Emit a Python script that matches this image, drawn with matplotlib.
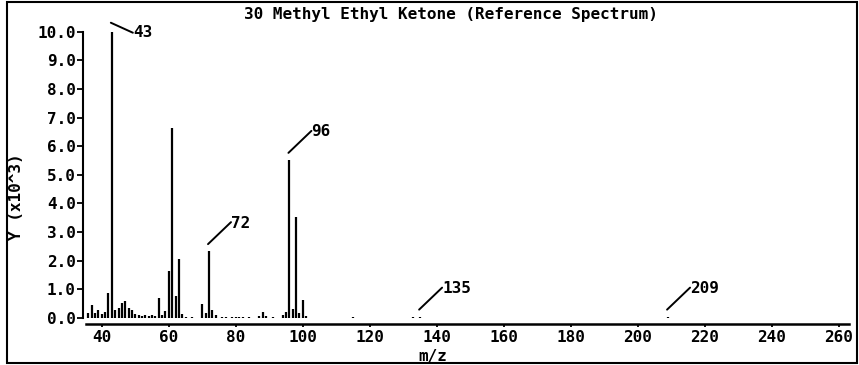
import matplotlib
matplotlib.use('Agg')
import matplotlib.pyplot as plt
from matplotlib.patches import Rectangle
from matplotlib.transforms import offset_copy

# ---- data (intensities in thousands) ----
mz = [36, 37, 38, 39, 40, 41, 42, 43, 44, 45, 46, 47, 48, 49, 50, 51, 52, 53, 54, 55,
      56, 57, 58, 59, 60, 61, 62, 63, 64, 65, 67, 70, 71, 72, 73, 74, 76, 77, 79, 80,
      81, 82, 84, 87, 88, 89, 91, 94, 95, 96, 97, 98, 99, 100, 101, 115, 133, 135, 209]
intensity = [0.15, 0.46, 0.16, 0.28, 0.12, 0.21, 0.85, 10.0, 0.27, 0.34, 0.50, 0.57, 0.34, 0.28, 0.12, 0.08, 0.06, 0.08, 0.05, 0.08,
             0.05, 0.70, 0.08, 0.22, 1.62, 6.65, 0.75, 2.07, 0.12, 0.03, 0.03, 0.48, 0.16, 2.33, 0.26, 0.10, 0.03, 0.03, 0.04, 0.03,
             0.04, 0.03, 0.03, 0.05, 0.20, 0.05, 0.03, 0.10, 0.20, 5.52, 0.30, 3.52, 0.15, 0.63, 0.05, 0.04, 0.03, 0.04, 0.04]
labeled_mz = [43, 72, 96, 135, 209]
title = "30 Methyl Ethyl Ketone (Reference Spectrum)"
xticks = [40, 60, 80, 100, 120, 140, 160, 180, 200, 220, 240, 260]
yticks = [0.0, 1.0, 2.0, 3.0, 4.0, 5.0, 6.0, 7.0, 8.0, 9.0, 10.0]
xlabel = "m/z"
ylabel = "Y (x10^3)"

plt.rcParams['font.family'] = ['DejaVu Sans Mono']
plt.rcParams['font.weight'] = 'bold'
FS = 11.5

W, H = 859, 365
fig = plt.figure(figsize=(W / 100, H / 100), dpi=100)
fig.patch.set_facecolor('white')
ax = fig.add_axes([85.7 / W, (H - 323.5) / H, (849 - 85.7) / W, (323.5 - 26) / H])
ax.set_xlim(35.2, 263.0)
ax.set_ylim(-0.2, 10.2)

ax.vlines(mz, 0, intensity, color='black', lw=1.6)

for s in ['top', 'right']:
    ax.spines[s].set_visible(False)
ax.spines['left'].set_position(('outward', 2.2))
ax.spines['left'].set_bounds(0, 10)
ax.spines['left'].set_linewidth(1.5)
ax.spines['bottom'].set_linewidth(1.8)

ax.set_xticks(xticks)
ax.set_xticklabels([str(t) for t in xticks], fontsize=FS, fontweight='bold')
ax.set_yticks(yticks)
ax.set_yticklabels(["%.1f" % t for t in yticks], fontsize=FS, fontweight='bold')
ax.tick_params(axis='y', direction='out', length=4, width=1.3, pad=1)
ax.tick_params(axis='x', direction='out', length=2.5, width=1.3, pad=2.5)

# labels of peaks
lookup = dict(zip(mz, intensity))
for m in labeled_mz:
    v = lookup[m]
    if v > 9:
        l0, l1, t = (-1, 9), (21, -1), (21, -0.5)
    else:
        l0, l1, t = (-1, 7), (22, 29), (22, 28)
    ax.annotate('', xy=(m, v), xytext=(m, v),
                xycoords=offset_copy(ax.transData, fig=fig, x=l0[0], y=l0[1], units='dots'),
                textcoords=offset_copy(ax.transData, fig=fig, x=l1[0], y=l1[1], units='dots'),
                arrowprops=dict(arrowstyle='-', shrinkA=0, shrinkB=0, lw=1.4, color='black'))
    ax.text(m, v, str(m), transform=offset_copy(ax.transData, fig=fig, x=t[0], y=t[1], units='dots'),
            ha='left', va='center', fontsize=FS, fontweight='bold')

fig.text(451 / W, 1 - 14 / H, title, ha='center', va='center', fontsize=FS, fontweight='bold')
fig.text(17 / W, 1 - 197 / H, ylabel, rotation=90, ha='center', va='center', fontsize=FS, fontweight='bold')
fig.text(433 / W, 1 - 356 / H, xlabel, ha='center', va='center', fontsize=FS, fontweight='bold')

fig.add_artist(Rectangle((7 / W, 2 / H), 850 / W, 361 / H, transform=fig.transFigure,
                         fill=False, lw=1.5, ec='black'))

fig.savefig('out.png', dpi=100, facecolor='white')
